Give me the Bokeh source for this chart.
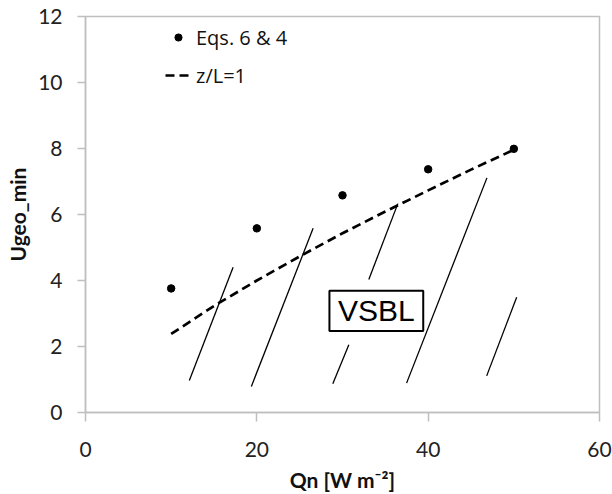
from bokeh.plotting import figure
from bokeh.models import Legend, LegendItem, Range1d, FixedTicker
from bokeh.core.properties import value
from bokeh.embed import file_html
from bokeh.resources import INLINE

# ---- data ----
qn = [10, 20, 30, 40, 50]
ugeo_min = [3.76, 5.58, 6.58, 7.37, 7.99]

zl_qn = [10, 15, 20, 25, 30, 35, 40, 45, 50]
zl_ugeo = [2.38, 3.23, 4.00, 4.73, 5.43, 6.09, 6.73, 7.36, 7.96]

hatch_x0 = [12.12, 19.36, 28.87, 33.07, 37.48, 46.83]
hatch_y0 = [0.97, 0.79, 0.87, 4.03, 0.89, 1.11]
hatch_x1 = [17.23, 26.57, 30.74, 36.46, 46.86, 50.33]
hatch_y1 = [4.40, 5.58, 2.05, 6.33, 7.11, 3.49]

region_label = ["VSBL"]
region_x = [33.95]
region_y = [3.08]
region_w = 10.95
region_h = 1.22

x_ticks = [0, 20, 40, 60]
y_ticks = [0, 2, 4, 6, 8, 10, 12]

FONT = "Lato"
GREY = "#bfbfbf"

p = figure(width=612, height=494, output_backend="svg", toolbar_location=None,
           x_range=Range1d(0, 60), y_range=Range1d(0, 12),
           min_border_left=85, min_border_right=13, min_border_top=16, min_border_bottom=81)

p.xgrid.visible = False
p.ygrid.visible = False
p.outline_line_color = GREY
p.outline_line_width = 1.5

for ax in (p.xaxis[0], p.yaxis[0]):
    ax.axis_line_color = GREY
    ax.axis_line_width = 1.5
    ax.major_tick_line_color = GREY
    ax.major_tick_line_width = 1.5
    ax.minor_tick_line_color = None
    ax.major_tick_in = 0
    ax.major_label_text_font = FONT
    ax.major_label_text_font_size = "21px"
    ax.major_label_text_color = "#222222"
    ax.axis_label_text_font = FONT
    ax.axis_label_text_font_style = "bold"
    ax.axis_label_text_font_size = "21px"
    ax.axis_label_text_color = "#111111"

p.xaxis.ticker = FixedTicker(ticks=x_ticks)
p.yaxis.ticker = FixedTicker(ticks=y_ticks)
p.xaxis.major_tick_out = 9
p.yaxis.major_tick_out = 8
p.xaxis.major_label_standoff = 20
p.yaxis.major_label_standoff = 15
p.xaxis.axis_label = "Qn [W m\u207b\u00b2]"
p.yaxis.axis_label = "Ugeo_min"
p.xaxis.axis_label_standoff = 7
p.yaxis.axis_label_standoff = 5

p.segment(x0=hatch_x0, y0=hatch_y0, x1=hatch_x1, y1=hatch_y1,
          line_color="black", line_width=1.3)

ln = p.line(zl_qn, zl_ugeo, line_color="black", line_width=2.7, line_dash="9 5")
sc = p.scatter(qn, ugeo_min, size=7.5, color="black")

p.rect(x=region_x, y=region_y, width=region_w, height=region_h,
       fill_color="white", line_color="black", line_width=2)
p.text(x=region_x, y=region_y, text=region_label,
       text_align="center", text_baseline="middle",
       text_font=value("Liberation Sans"), text_font_size="30px", text_color="black")

legend = Legend(items=[LegendItem(label="Eqs. 6 & 4", renderers=[sc]),
                       LegendItem(label="z/L=1", renderers=[ln])],
                location=(80, 323), padding=0, margin=0, spacing=10,
                glyph_width=26, glyph_height=18, label_height=28,
                label_standoff=5, border_line_color=None,
                background_fill_alpha=0,
                label_text_font="Open Sans", label_text_font_size="20px",
                label_text_color="#111111")
p.add_layout(legend)

open("out.html", "w").write(file_html(p, INLINE))
